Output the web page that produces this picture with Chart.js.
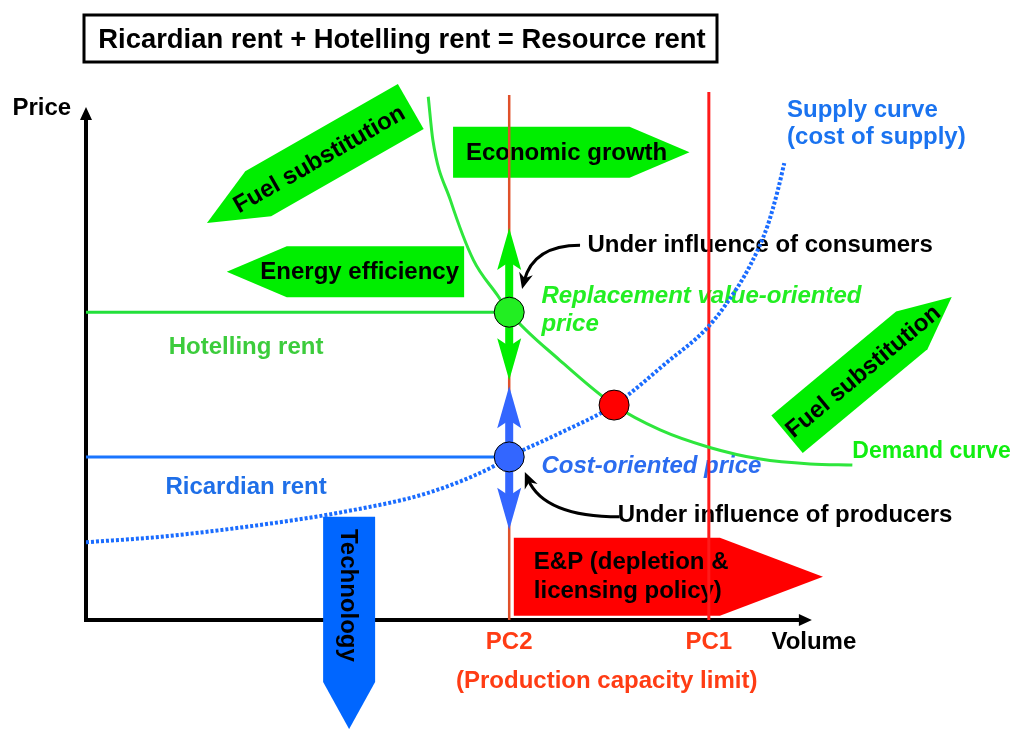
<!DOCTYPE html>
<html>
<head>
<meta charset="utf-8">
<script src="https://cdn.jsdelivr.net/npm/chart.js@4.4.1/dist/chart.umd.min.js"></script>
<style>
  html, body { margin: 0; padding: 0; background: #fff; }
</style>
</head>
<body>
<canvas id="myChart" width="1016" height="729"></canvas>
<script>
// values (volume 0..100 along x, price 0..100 along y)
const demandVolume = [37.2, 37.7, 39.6, 42.1, 44.7, 46.0, 51.5, 57.4, 62.4, 67.7, 73.3, 78.7, 83.3];
const demandPrice  = [96.9, 88.9, 77.8, 66.7, 60.2, 57.0, 48.1, 39.8, 35.2, 32.0, 29.8, 28.9, 28.7];

const supplyVolume = [0, 8.0, 18.9, 27.9, 37.1, 43.9, 46.0, 51.5, 57.4, 63.2, 67.3, 69.5, 72.2, 74.1, 75.2, 75.9];
const supplyPrice  = [14.4, 15.4, 17.6, 20.0, 23.5, 28.1, 30.2, 34.6, 39.8, 47.8, 53.7, 58.3, 65.7, 73.1, 79.6, 84.6];

const rentNames  = ['Hotelling rent', 'Ricardian rent'];
const rentPrices = [57.0, 30.2];

const capacityNames   = ['PC2', 'PC1'];
const capacityVolumes = [46.0, 67.7];
const capacityTops    = [97.2, 97.8];

const pointNames   = ['Replacement value-oriented price', 'Equilibrium', 'Cost-oriented price'];
const pointVolumes = [46.0, 57.4, 46.0];
const pointPrices  = [57.0, 39.8, 30.2];

// price span of the two double arrows on PC2
const consumerRange = [44.4, 72.6];
const producerRange = [16.7, 43.3];

const FONT = "'Liberation Sans', Arial, sans-serif";
const GREEN = '#00ee00';

const toXY = (xs, ys) => xs.map((v, i) => ({x: v, y: ys[i]}));

// big block arrows (tail centre -> tip, in chart units)
const blockArrows = [
  {lines: ['Fuel substitution'], from: [35.3, 95.1], to: [13.15, 73.5], half: 26, head: 59, color: GREEN, t: 0.45},
  {lines: ['Energy efficiency'], from: [41.1, 64.5], to: [15.3, 64.5], half: 25.5, head: 60, color: GREEN, t: 0.44},
  {lines: ['Economic growth'], from: [39.9, 86.6], to: [65.6, 86.6], half: 25.5, head: 60, color: GREEN, t: 0.48},
  {lines: ['Fuel substitution'], from: [76.2, 34.4], to: [94.1, 59.8], half: 24.5, head: 52, color: GREEN, t: 0.46},
  {lines: ['Technology'], from: [28.6, 19.1], to: [28.6, -20.2], half: 26, head: 47, color: '#0066ff', t: 0.37},
  {lines: ['E&P (depletion &', 'licensing policy)'], from: [46.5, 8.0], to: [80.1, 8.0], half: 39, head: 103, color: '#ff0000', left: 20}
];

const textLabels = [
  {text: rentNames[0], at: [17.4, 50.4], color: '#3ccc3c', align: 'center'},
  {text: rentNames[1], at: [17.4, 24.6], color: '#1f6fe8', align: 'center'},
  {text: 'Supply curve', at: [76.2, 94.4], color: '#1a73f0', align: 'left'},
  {text: '(cost of supply)', at: [76.2, 89.3], color: '#1a73f0', align: 'left'},
  {text: 'Under influence of consumers', at: [54.5, 69.3], color: '#000', align: 'left'},
  {text: 'Replacement value-oriented', at: [49.5, 60.0], color: '#22ee22', align: 'left', italic: true},
  {text: 'price', at: [49.5, 54.8], color: '#22ee22', align: 'left', italic: true},
  {text: 'Cost-oriented price', at: [49.5, 28.5], color: '#2b6cf0', align: 'left', italic: true},
  {text: 'Under influence of producers', at: [57.8, 19.3], color: '#000', align: 'left'},
  {text: 'Demand curve', at: [83.3, 31.1], color: '#11ee11', align: 'left', size: 23},
  {text: 'Price', at: [-8.0, 94.8], color: '#000', align: 'left'},
  {text: 'Volume', at: [74.5, -4.1], color: '#000', align: 'left'},
  {text: capacityNames[0], at: [capacityVolumes[0], -4.1], color: '#ff3c14', align: 'center'},
  {text: capacityNames[1], at: [capacityVolumes[1], -4.1], color: '#ff3c14', align: 'center'},
  {text: '(Production capacity limit)', at: [56.6, -11.3], color: '#ff3c14', align: 'center'}
];

// curved pointers: start, control, tip
const pointers = [
  [[53.7, 69.4], [48.6, 69.4], [47.4, 61.3]],
  [[58.0, 19.1], [49.8, 19.1], [47.7, 27.4]]
];

function blockArrow(c, x0, y0, x1, y1, half, head) {
  const dx = x1 - x0, dy = y1 - y0, len = Math.hypot(dx, dy);
  const ux = dx / len, uy = dy / len, nx = -uy, ny = ux;
  const bx = x1 - ux * head, by = y1 - uy * head;
  c.beginPath();
  c.moveTo(x0 + nx * half, y0 + ny * half);
  c.lineTo(bx + nx * half, by + ny * half);
  c.lineTo(x1, y1);
  c.lineTo(bx - nx * half, by - ny * half);
  c.lineTo(x0 - nx * half, y0 - ny * half);
  c.closePath();
  c.fill();
}

function vHead(c, x, tipY, dir, len, half, notch) {
  // dir -1 = points up, +1 = points down
  c.beginPath();
  c.moveTo(x, tipY);
  c.lineTo(x + half, tipY - dir * len);
  c.lineTo(x, tipY - dir * (len - notch));
  c.lineTo(x - half, tipY - dir * len);
  c.closePath();
  c.fill();
}

const diagramPlugin = {
  id: 'diagram',
  beforeDatasetsDraw(chart) {
    const c = chart.ctx, sx = chart.scales.x, sy = chart.scales.y;
    const px = v => sx.getPixelForValue(v), py = v => sy.getPixelForValue(v);
    c.save();

    // title box
    c.strokeStyle = '#000';
    c.lineWidth = 3;
    c.strokeRect(84, 15, 633, 47);
    c.fillStyle = '#000';
    c.font = 'bold 27.4px ' + FONT;
    c.textAlign = 'center';
    c.textBaseline = 'middle';
    c.fillText('Ricardian rent + Hotelling rent = Resource rent', 402, 40);

    // axes
    const ox = px(0), oy = py(0), topY = py(95.0), endX = px(78.9);
    c.lineWidth = 4;
    c.beginPath();
    c.moveTo(ox, oy + 2);
    c.lineTo(ox, topY + 10);
    c.moveTo(ox - 2, oy);
    c.lineTo(endX - 10, oy);
    c.stroke();
    c.beginPath();
    c.moveTo(ox, topY); c.lineTo(ox + 6, topY + 13); c.lineTo(ox - 6, topY + 13); c.closePath();
    c.moveTo(endX, oy); c.lineTo(endX - 13, oy - 6); c.lineTo(endX - 13, oy + 6); c.closePath();
    c.fill();

    // text labels (lines pass over them)
    textLabels.forEach(l => {
      c.font = (l.italic ? 'italic ' : '') + 'bold ' + (l.size || 24) + 'px ' + FONT;
      c.fillStyle = l.color;
      c.textAlign = l.align;
      c.textBaseline = 'middle';
      c.fillText(l.text, px(l.at[0]), py(l.at[1]));
    });

    // block arrows
    blockArrows.forEach(a => {
      const x0 = px(a.from[0]), y0 = py(a.from[1]), x1 = px(a.to[0]), y1 = py(a.to[1]);
      c.fillStyle = a.color;
      blockArrow(c, x0, y0, x1, y1, a.half, a.head);
      c.fillStyle = '#000';
      c.font = 'bold 24px ' + FONT;
      c.textBaseline = 'middle';
      if (a.left !== undefined) {
        c.textAlign = 'left';
        a.lines.forEach((s, i) => c.fillText(s, x0 + a.left, y0 + (i - (a.lines.length - 1) / 2) * 29));
        return;
      }
      let ang = Math.atan2(y1 - y0, x1 - x0);
      if (ang > Math.PI / 2 + 0.01) ang -= Math.PI;
      if (ang < -Math.PI / 2 - 0.01) ang += Math.PI;
      c.save();
      c.translate(x0 + (x1 - x0) * a.t, y0 + (y1 - y0) * a.t);
      c.rotate(ang);
      c.textAlign = 'center';
      c.fillText(a.lines[0], 0, 1);
      c.restore();
    });
    c.restore();
  },
  beforeDatasetDraw(chart, args) {
    if (chart.data.datasets[args.index].label !== 'Equilibrium points') return;
    const c = chart.ctx, sx = chart.scales.x, sy = chart.scales.y;
    const x = sx.getPixelForValue(capacityVolumes[0]);
    const ranges = [[consumerRange, GREEN], [producerRange, '#3366ff']];
    c.save();
    ranges.forEach(([r, col]) => {
      const top = sy.getPixelForValue(r[1]), bot = sy.getPixelForValue(r[0]);
      c.fillStyle = col;
      c.fillRect(x - 4, top + 30, 8, bot - top - 60);
      vHead(c, x, top, -1, 42, 12, 8);
      vHead(c, x, bot, 1, 42, 12, 8);
    });
    c.restore();
  },
  afterDatasetsDraw(chart) {
    const c = chart.ctx, sx = chart.scales.x, sy = chart.scales.y;
    const P = p => [sx.getPixelForValue(p[0]), sy.getPixelForValue(p[1])];
    c.save();
    c.strokeStyle = '#000';
    c.fillStyle = '#000';
    c.lineWidth = 3;
    pointers.forEach(pt => {
      const [a, b, t] = pt.map(P);
      const dx = t[0] - b[0], dy = t[1] - b[1], len = Math.hypot(dx, dy);
      const ux = dx / len, uy = dy / len;
      c.beginPath();
      c.moveTo(a[0], a[1]);
      c.quadraticCurveTo(b[0], b[1], t[0] - ux * 8, t[1] - uy * 8);
      c.stroke();
      c.beginPath();
      c.moveTo(t[0], t[1]);
      c.lineTo(t[0] - ux * 16 - uy * 7, t[1] - uy * 16 + ux * 7);
      c.lineTo(t[0] - ux * 11, t[1] - uy * 11);
      c.lineTo(t[0] - ux * 16 + uy * 7, t[1] - uy * 16 - ux * 7);
      c.closePath();
      c.fill();
    });
    c.restore();
  }
};

const line = (label, data, color, width, extra) => Object.assign({
  label: label, data: data, borderColor: color, borderWidth: width,
  pointRadius: 0, fill: false, tension: 0, order: 1
}, extra || {});

const ctx = document.getElementById('myChart').getContext('2d');

const myChart = new Chart(ctx, {
  type: 'line',
  data: {
    datasets: [
      {
        label: 'Equilibrium points',
        type: 'scatter',
        data: toXY(pointVolumes, pointPrices),
        pointRadius: 15,
        pointBackgroundColor: ['#22ee22', '#ff0000', '#3366ff'],
        pointBorderColor: '#000',
        pointBorderWidth: 1,
        order: 0,
        clip: false
      },
      line('Demand curve', toXY(demandVolume, demandPrice), '#2ee63c', 3, {cubicInterpolationMode: 'monotone'}),
      line('Supply curve', toXY(supplyVolume, supplyPrice), '#1a6cff', 4, {cubicInterpolationMode: 'monotone', borderDash: [3, 2]}),
      line(rentNames[0], [{x: 0, y: rentPrices[0]}, {x: capacityVolumes[0], y: rentPrices[0]}], '#22e03a', 3),
      line(rentNames[1], [{x: 0, y: rentPrices[1]}, {x: capacityVolumes[0], y: rentPrices[1]}], '#1a75ff', 3),
      line(capacityNames[0], [{x: capacityVolumes[0], y: 0}, {x: capacityVolumes[0], y: capacityTops[0]}], '#e0502a', 2.5),
      line(capacityNames[1], [{x: capacityVolumes[1], y: 0}, {x: capacityVolumes[1], y: capacityTops[1]}], '#ff1a1a', 3)
    ]
  },
  options: {
    responsive: false,
    animation: false,
    devicePixelRatio: 1,
    layout: { autoPadding: false, padding: { left: 86, right: 10, top: 80, bottom: 109 } },
    scales: {
      x: { type: 'linear', min: 0, max: 100, display: false },
      y: { type: 'linear', min: 0, max: 100, display: false }
    },
    plugins: {
      legend: { display: false },
      tooltip: { enabled: false }
    }
  },
  plugins: [diagramPlugin]
});
</script>
</body>
</html>
